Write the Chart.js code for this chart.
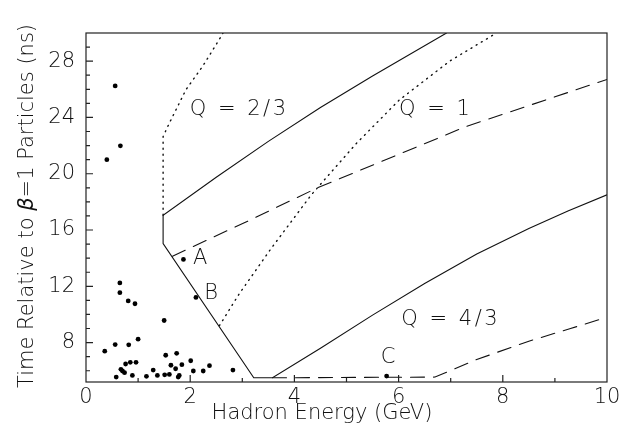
<!DOCTYPE html>
<html>
<head>
<meta charset="utf-8">
<script src="https://cdn.jsdelivr.net/npm/chart.js@4.4.1/dist/chart.umd.min.js"></script>
<style>
  html, body { margin: 0; padding: 0; background: #fff; }
</style>
</head>
<body>
<canvas id="miGrafico" width="633" height="437"></canvas>
<script>
// puntos medidos (energía en GeV, tiempo en ns)
var energiaPuntos = [0.65, 0.65, 0.81, 0.94, 2.11, 1.50, 1.00, 0.56, 0.82, 0.36,
    1.74, 1.53, 2.01, 0.85, 0.96, 0.76, 1.63, 1.84, 2.37, 0.67,
    0.70, 1.29, 1.72, 2.06, 2.25, 2.82, 0.74, 0.89, 0.58, 1.16,
    1.37, 1.51, 1.60, 1.77, 1.79, 0.56, 0.66, 0.40, 1.87, 5.77];
var tiempoPuntos = [12.24, 11.55, 10.96, 10.76, 11.21, 9.57, 8.24, 7.86, 7.84, 7.39,
    7.24, 7.10, 6.71, 6.60, 6.60, 6.48, 6.39, 6.43, 6.36, 6.10,
    5.98, 6.05, 6.14, 5.98, 5.98, 6.05, 5.86, 5.67, 5.55, 5.60,
    5.67, 5.71, 5.74, 5.55, 5.67, 26.24, 21.98, 21.00, 13.91, 5.62];

// curva continua (Q = 2/3 arriba, corte, Q = 4/3)
var solidaX = [6.92, 5.5, 4.5, 3.5, 2.5, 1.48, 1.48, 3.22, 3.58, 4.5, 5.5, 6.5, 7.5, 8.5, 9.25, 10];
var solidaY = [30.0, 26.95, 24.7, 22.3, 19.75, 17.05, 15.03, 5.5, 5.5, 7.6, 9.95, 12.2, 14.3, 16.1, 17.35, 18.5];

// curvas a trazos
var trazosAX = [1.66, 3.07, 4.42, 7.3, 10];
var trazosAY = [14.14, 16.57, 18.96, 23.36, 26.7];
var trazosBX = [3.58, 6.7, 7.5, 8.5, 9.3, 10];
var trazosBY = [5.5, 5.55, 6.8, 8.1, 9.0, 9.8];

// curvas punteadas
var puntosAX = [1.48, 1.48, 1.6, 1.92, 2.24, 2.56, 2.63];
var puntosAY = [17.05, 22.64, 23.6, 25.98, 27.64, 29.55, 30.0];
var puntosBX = [2.56, 2.94, 3.55, 4.32, 5.2, 6.02, 6.98, 7.88];
var puntosBY = [9.2, 11.46, 14.67, 18.48, 22.2, 25.26, 28.0, 30.0];

// etiquetas dentro del gráfico
var etiquetas = ["Q = 2/3", "Q = 1", "Q = 4/3", "A", "B", "C"];
var etiquetasX = [2.94, 6.71, 7.0, 2.19, 2.40, 5.8];
var etiquetasY = [24.55, 24.55, 9.67, 13.98, 11.46, 6.93];

var ticksX = [0, 2, 4, 6, 8, 10];
var ticksY = [8, 12, 16, 20, 24, 28];

var FUENTE = '"DejaVu Sans", sans-serif';

function pares(xs, ys) {
    return xs.map(function (x, i) { return { x: x, y: ys[i] }; });
}

function linea(xs, ys, dash) {
    return {
        data: pares(xs, ys),
        showLine: true,
        pointRadius: 0,
        borderColor: '#111',
        borderWidth: dash && dash[0] < 2 ? 1.4 : 1.1,
        borderDash: dash || [],
        borderCapStyle: 'round',
        tension: 0
    };
}

var marcoPlugin = {
    id: 'marco',
    afterDraw: function (chart) {
        var ctx = chart.ctx, a = chart.chartArea;
        var sx = chart.scales.x, sy = chart.scales.y;
        ctx.save();
        ctx.strokeStyle = '#222';
        ctx.lineWidth = 1.2;
        ctx.strokeRect(a.left, a.top, a.right - a.left, a.bottom - a.top);
        ctx.beginPath();
        for (var v = 1; v < 10; v++) {
            var px = sx.getPixelForValue(v);
            var len = v % 2 === 0 ? 7 : 4;
            ctx.moveTo(px, a.bottom);
            ctx.lineTo(px, a.bottom - len);
        }
        for (var w = 6; w < 30; w++) {
            var py = sy.getPixelForValue(w);
            var l2 = w % 4 === 0 ? 7 : 4;
            ctx.moveTo(a.left, py);
            ctx.lineTo(a.left + l2, py);
        }
        ctx.stroke();

        // etiquetas
        ctx.fillStyle = '#111';
        ctx.font = '200 21px ' + FUENTE;
        ctx.textAlign = 'center';
        ctx.textBaseline = 'middle';
        etiquetas.forEach(function (t, i) {
            ctx.letterSpacing = t.length > 1 ? '2.5px' : '0px';
            ctx.fillText(t, sx.getPixelForValue(etiquetasX[i]), sy.getPixelForValue(etiquetasY[i]));
        });
        ctx.letterSpacing = '0px';

        // títulos de ejes
        ctx.fillText('Hadron Energy (GeV)', 322, 414);
        ctx.translate(28, 206);
        ctx.rotate(-Math.PI / 2);
        var p1 = 'Time Relative to ', p2 = '\u03B2', p3 = '=1 Particles (ns)';
        ctx.font = '200 21px ' + FUENTE;
        var w1 = ctx.measureText(p1).width, w3 = ctx.measureText(p3).width;
        ctx.font = 'italic 200 21px ' + FUENTE;
        var w2 = ctx.measureText(p2).width;
        var x0 = -(w1 + w2 + w3) / 2;
        ctx.textAlign = 'left';
        ctx.font = '200 21px ' + FUENTE;
        ctx.fillText(p1, x0, 0);
        ctx.font = 'italic 200 21px ' + FUENTE;
        ctx.fillText(p2, x0 + w1, 0);
        ctx.font = '200 21px ' + FUENTE;
        ctx.fillText(p3, x0 + w1 + w2, 0);
        ctx.restore();
    }
};

var ctx = document.getElementById('miGrafico');
var miGrafico = new Chart(ctx, {
    type: 'scatter',
    data: {
        datasets: [
            {
                data: pares(energiaPuntos, tiempoPuntos),
                pointRadius: 2.4,
                pointBackgroundColor: '#000',
                pointBorderWidth: 0,
                showLine: false
            },
            linea(solidaX, solidaY),
            linea(trazosAX, trazosAY, [14, 9]),
            linea(trazosBX, trazosBY, [14, 9]),
            linea(puntosAX, puntosAY, [1, 5]),
            linea(puntosBX, puntosBY, [1, 5])
        ]
    },
    options: {
        responsive: false,
        animation: false,
        layout: { padding: { left: 0, top: 33, right: 26, bottom: 0 } },
        plugins: { legend: { display: false }, tooltip: { enabled: false } },
        scales: {
            x: {
                type: 'linear',
                min: 0,
                max: 10,
                afterBuildTicks: function (s) { s.ticks = ticksX.map(function (v) { return { value: v }; }); },
                afterFit: function (s) { s.height = 55; },
                grid: { display: false, drawTicks: false },
                border: { display: false },
                ticks: { padding: 3, color: '#111', font: { family: FUENTE, size: 21, weight: 200 }, maxRotation: 0 }
            },
            y: {
                type: 'linear',
                min: 5.2,
                max: 30,
                afterBuildTicks: function (s) { s.ticks = ticksY.map(function (v) { return { value: v }; }); },
                afterFit: function (s) { s.width = 86; },
                grid: { display: false, drawTicks: false },
                border: { display: false },
                ticks: { padding: 11, color: '#111', font: { family: FUENTE, size: 21, weight: 200 } }
            }
        }
    },
    plugins: [marcoPlugin]
});
</script>
</body>
</html>
